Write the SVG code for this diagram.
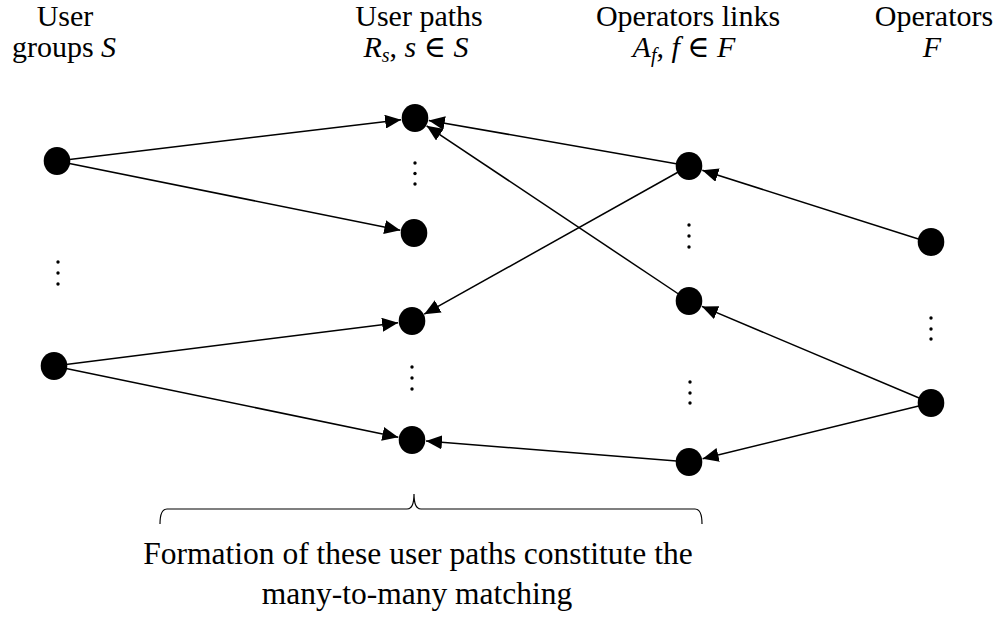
<svg xmlns="http://www.w3.org/2000/svg" width="1000" height="618" viewBox="0 0 1000 618">
<style>
text{font-family:'Liberation Serif','Times New Roman',Tinos,'DejaVu Serif',serif;font-size:30px;fill:#000;text-anchor:middle}
.i{font-style:italic}
.big{font-size:31.5px}
.node{fill:#000}
.dot{fill:#000}
.edge{stroke:#000;stroke-width:1.5;fill:none;marker-end:url(#ah)}
.brace{stroke:#000;stroke-width:1.2;fill:none}
</style>
<defs>
<marker id="ah" viewBox="0 0 16 14" refX="16" refY="7" markerWidth="16" markerHeight="14" markerUnits="userSpaceOnUse" orient="auto">
<path d="M0,0 L16,7 L0,14 z" fill="#000"/>
</marker>
</defs>
<rect width="1000" height="618" fill="#fff"/>
<g id="headers">
<text x="65" y="26">User</text>
<text x="64" y="57">groups <tspan class="i">S</tspan></text>
<text x="419" y="26">User paths</text>
<text x="416" y="57" font-size="31"><tspan class="i">R</tspan><tspan class="i" font-size="20" dy="5">s</tspan><tspan dy="-5">, </tspan><tspan class="i">s</tspan> ∈ <tspan class="i">S</tspan></text>
<text x="688" y="26">Operators links</text>
<text x="684" y="57" font-size="31"><tspan class="i">A</tspan><tspan class="i" font-size="20" dy="5">f</tspan><tspan dy="-5">, </tspan><tspan class="i">f</tspan> ∈ <tspan class="i">F</tspan></text>
<text x="934" y="26">Operators</text>
<text x="932" y="57" font-size="31"><tspan class="i">F</tspan></text>
</g>
<g id="edges">
<line class="edge" x1="57" y1="161" x2="401.1" y2="119.7"/>
<line class="edge" x1="57" y1="161" x2="400.3" y2="230.2"/>
<line class="edge" x1="54" y1="366" x2="398.1" y2="322.7"/>
<line class="edge" x1="54" y1="366" x2="398.3" y2="437.2"/>
<line class="edge" x1="689" y1="166" x2="428.8" y2="120.4"/>
<line class="edge" x1="689" y1="166" x2="424.2" y2="314.2"/>
<line class="edge" x1="689" y1="301" x2="426.6" y2="125.8"/>
<line class="edge" x1="689" y1="462" x2="426" y2="441.1"/>
<line class="edge" x1="931" y1="243" x2="702.3" y2="170.2"/>
<line class="edge" x1="931" y1="403" x2="701.9" y2="306.4"/>
<line class="edge" x1="931" y1="403" x2="702.6" y2="458.7"/>
</g>
<g id="user-groups">
<ellipse id="L1" class="node" cx="57" cy="161" rx="13.3" ry="14"/>
<ellipse id="L2" class="node" cx="54" cy="366" rx="13.3" ry="14"/>
<circle class="dot" cx="58" cy="262" r="1.7"/><circle class="dot" cx="58" cy="273" r="1.7"/><circle class="dot" cx="58" cy="284" r="1.7"/>
</g>
<g id="user-paths">
<ellipse id="M1" class="node" cx="415" cy="118" rx="13.3" ry="14"/>
<ellipse id="M2" class="node" cx="414" cy="233" rx="13.3" ry="14"/>
<ellipse id="M3" class="node" cx="412" cy="321" rx="13.3" ry="14"/>
<ellipse id="M4" class="node" cx="412" cy="440" rx="13.3" ry="14"/>
<circle class="dot" cx="415" cy="163" r="1.7"/><circle class="dot" cx="415" cy="173.5" r="1.7"/><circle class="dot" cx="415" cy="184" r="1.7"/>
<circle class="dot" cx="412" cy="367" r="1.7"/><circle class="dot" cx="412" cy="378" r="1.7"/><circle class="dot" cx="412" cy="389" r="1.7"/>
</g>
<g id="operator-links">
<ellipse id="K1" class="node" cx="689" cy="166" rx="13.3" ry="14"/>
<ellipse id="K2" class="node" cx="689" cy="301" rx="13.3" ry="14"/>
<ellipse id="K3" class="node" cx="689" cy="462" rx="13.3" ry="14"/>
<circle class="dot" cx="689" cy="225" r="1.7"/><circle class="dot" cx="689" cy="236" r="1.7"/><circle class="dot" cx="689" cy="247" r="1.7"/>
<circle class="dot" cx="690" cy="382" r="1.7"/><circle class="dot" cx="690" cy="393" r="1.7"/><circle class="dot" cx="690" cy="403" r="1.7"/>
</g>
<g id="operators">
<ellipse id="O1" class="node" cx="931" cy="242" rx="13.3" ry="14"/>
<ellipse id="O2" class="node" cx="931" cy="403" rx="13.3" ry="14"/>
<circle class="dot" cx="931" cy="318" r="1.7"/><circle class="dot" cx="931" cy="329" r="1.7"/><circle class="dot" cx="931" cy="339" r="1.7"/>
</g>
<g id="brace-note">
<path class="brace" d="M160,524 Q160,509 167,509 L407,509 Q414,509 414,494 Q414,509 421,509 L695,509 Q702,509 702,524"/>
<text class="big" x="418" y="564">Formation of these user paths constitute the</text>
<text class="big" x="417" y="604">many-to-many matching</text>
</g>
</svg>
